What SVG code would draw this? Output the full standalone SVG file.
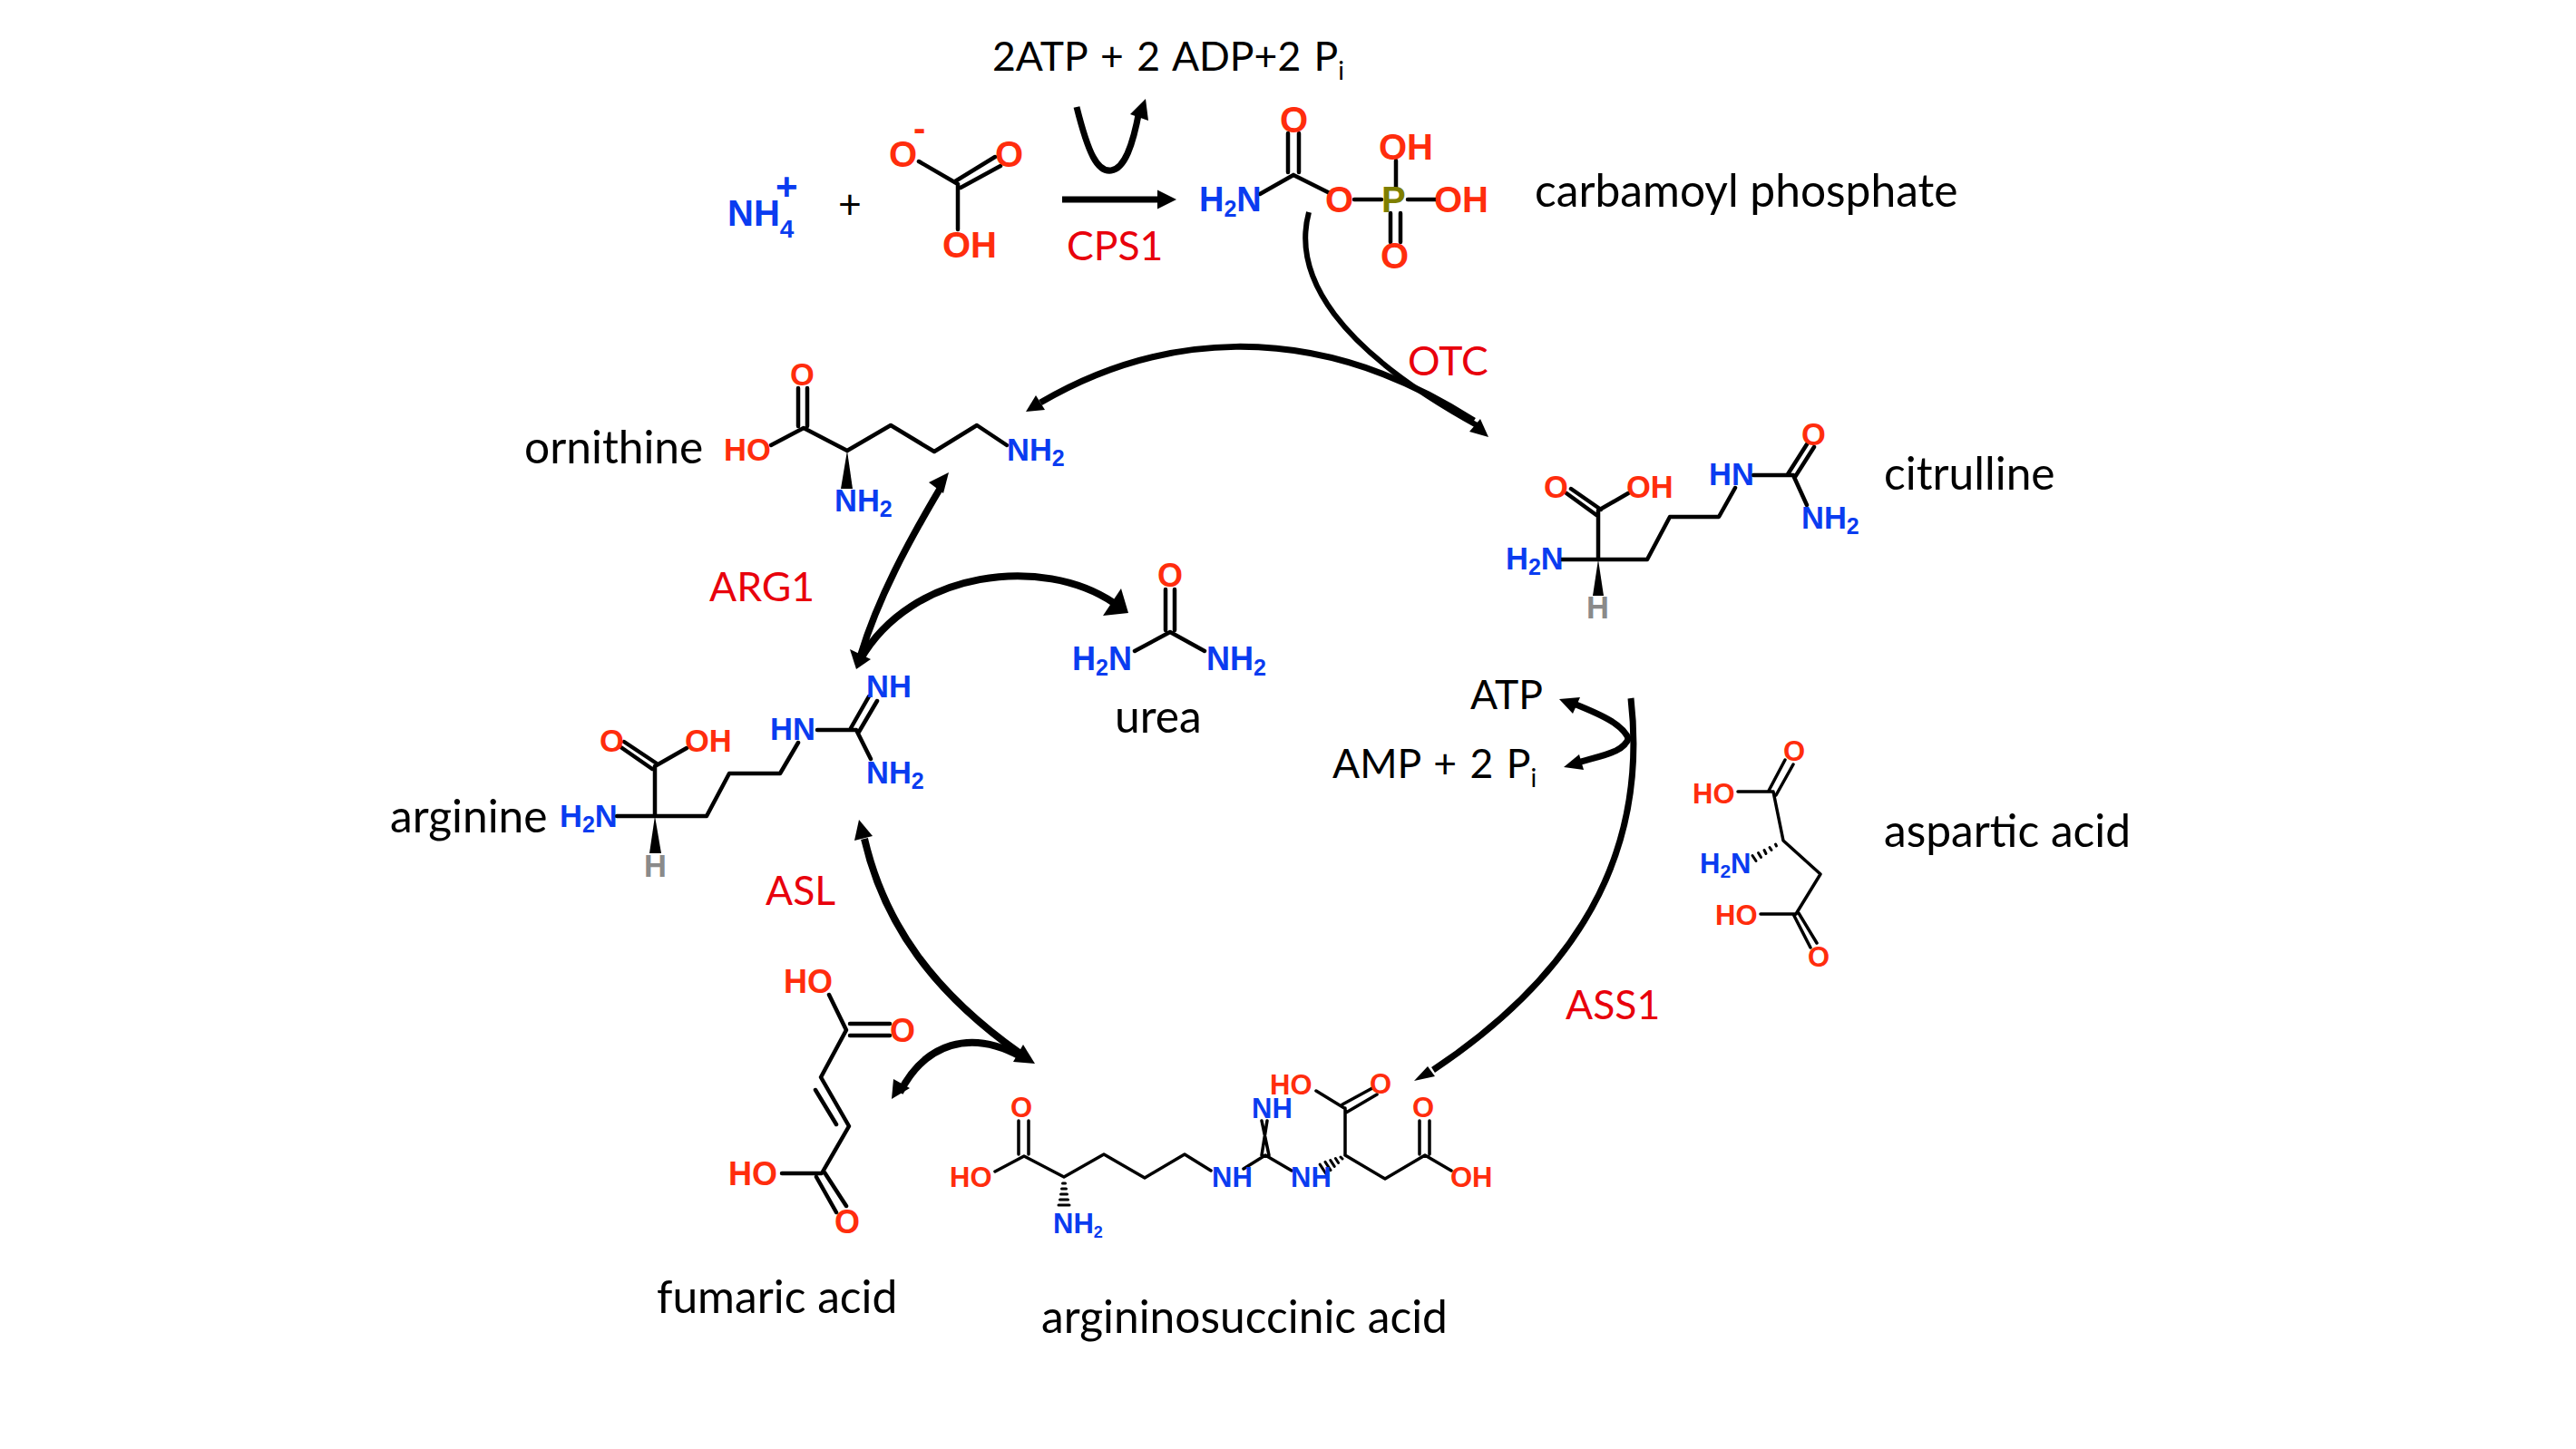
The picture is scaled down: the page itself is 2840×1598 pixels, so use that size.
<svg xmlns="http://www.w3.org/2000/svg" width="2840" height="1598" viewBox="0 0 2840 1598">
<style>
.l{font-family:Lato,"Open Sans",sans-serif;font-size:44.5px;fill:#000;word-spacing:3px}
.w{font-size:49.7px;word-spacing:0}
.e{fill:#e8000c}
.s{font-size:28px}
.a{font-family:"Liberation Sans",Arial,sans-serif;font-weight:bold;font-size:40px}
.a2{font-size:36px}.a3{font-size:31px}.a4{font-size:34.500px}.a5{font-size:31px}.a6{font-size:36px}
.r{fill:#ff2d0d}.n{fill:#0a3cf0}.p{fill:#7f7f00}.h{fill:#8a8a8a}
.sb{font-size:25px}
.b{fill:none;stroke:#000;stroke-width:4.500;stroke-linecap:round;stroke-linejoin:round}
.t{stroke-width:3.500}
.c{fill:none;stroke:#000;stroke-width:7}
.d{fill:#000}
</style>
<rect width="2840" height="1598" fill="#fff"/>

<g id="connectors">
<path class="c" d="M1187,118C1200,170 1210,190 1225,188C1240,186 1249,160 1256,122"/>
<polygon class="d" points="1263,109 1246,126 1266,133"/>
<path class="c" d="M1171,220H1280"/>
<polygon class="d" points="1297,220 1276,209.500 1276,230.500"/>
<path class="c" style="stroke-width:6" d="M1443,234C1424,305 1475,385 1630,470"/>
<path class="c" d="M1147,444C1270,372 1440,345 1625,464"/>
<polygon class="d" points="1641,482 1632,462 1620,476"/>
<polygon class="d" points="1131,454 1142,436 1152,452"/>
<path class="c" style="stroke-width:7.500" d="M1038,536C1000,600 968,660 949,722"/>
<polygon class="d" points="1046,521 1024,532 1040,544"/>
<polygon class="d" points="944,738 937,716 960,727"/>
<path class="c" style="stroke-width:8" d="M948,728C1005,628 1150,612 1228,665"/>
<polygon class="d" points="1244,676 1236,649 1216,679"/>
<path class="c" d="M1798,770C1815,920 1760,1060 1580,1180"/>
<polygon class="d" points="1559,1192 1574,1176 1582,1187"/>
<path class="c" d="M1796,816C1790,800 1770,790 1735,776"/>
<polygon class="d" points="1719,771 1742,769 1734,787"/>
<path class="c" d="M1796,813C1790,830 1770,832 1736,842"/>
<polygon class="d" points="1724,846 1741,832 1746,849"/>
<path class="c" style="stroke-width:8" d="M953,925C975,1020 1030,1095 1125,1162"/>
<polygon class="d" points="947,904 942,927 962,922"/>
<polygon class="d" points="1141,1173 1128,1152 1117,1171"/>
<path class="c" style="stroke-width:8" d="M1125,1165C1070,1135 1020,1150 992,1205"/>
<polygon class="d" points="983,1212 985,1190 1003,1200"/>
</g>

<g id="labels">
<text class="l" x="1094" y="78">2ATP + 2 ADP+2 P<tspan class="s" dy="10">i</tspan></text>
<text class="l" x="924" y="241">+</text>
<text class="l e" x="1176" y="287">CPS1</text>
<text class="l w" x="1692" y="228">carbamoyl phosphate</text>
<text class="l e" x="1552" y="414">OTC</text>
<text class="l w" x="578" y="511">ornithine</text>
<text class="l w" x="2077" y="540">citrulline</text>
<text class="l e" x="782" y="663">ARG1</text>
<text class="l w" x="1229" y="808">urea</text>
<text class="l" x="1621" y="782">ATP</text>
<text class="l" x="1469" y="858">AMP + 2 P<tspan class="s" dy="10">i</tspan></text>
<text class="l w" x="430" y="918">arginine</text>
<text class="l e" x="844" y="998">ASL</text>
<text class="l w" x="2077" y="934">aspartic acid</text>
<text class="l e" x="1726" y="1124">ASS1</text>
<text class="l w" x="724" y="1448">fumaric acid</text>
<text class="l w" x="1148" y="1470">argininosuccinic acid</text>
</g>

<g id="ammonium">
<text class="a n" x="802" y="249">NH<tspan style="font-size:28px" dy="13">4</tspan></text>
<text class="a n" x="855" y="220" style="font-size:42px">+</text>
</g>

<g id="bicarbonate">
<path class="b" d="M1056,203L1013,178M1053,200L1097,173M1059,207L1103,183M1056,203V253"/>
<text class="a r" x="980" y="184">O</text>
<text class="a r" x="1097" y="184">O</text>
<text class="a r" x="1039" y="284">OH</text>
<text class="a r" x="1007" y="155">-</text>
</g>

<g id="carbamoyl-phosphate">
<path class="b" d="M1420,147V190M1432,147V190M1426,193L1389,214M1426,193L1466,213M1493,220H1523M1539,177V207M1552,220H1584M1533,235V267M1544,235V267"/>
<text class="a n" x="1322" y="233" style="font-size:38px">H<tspan class="sb" dy="6">2</tspan><tspan dy="-6">N</tspan></text>
<text class="a r" x="1411" y="146">O</text>
<text class="a r" x="1461" y="234">O</text>
<text class="a p" x="1523" y="234">P</text>
<text class="a r" x="1520" y="176">OH</text>
<text class="a r" x="1581" y="234">OH</text>
<text class="a r" x="1522" y="296">O</text>
</g>

<g id="ornithine">
<path class="b" d="M880,428V470M890,428V470M850,491L886,472L934,497L982,469L1030,498L1077,469L1110,491"/>
<polygon class="d" points="934,497 927,539 940,539"/>
<text class="a a4 r" x="798" y="508">HO</text>
<text class="a a4 r" x="871" y="425">O</text>
<text class="a a4 n" x="1110" y="508">NH<tspan class="sb" dy="6">2</tspan></text>
<text class="a a4 n" x="920" y="564">NH<tspan class="sb" dy="6">2</tspan></text>
</g>

<g id="citrulline">
<path class="b" d="M1727,544L1760,568M1732,539L1765,562M1795,544L1762,563V617M1721,617H1816L1841,570H1895L1913,538M1933,524H1977L1992,557M1971,523L1992,490M1979,526L2000,493"/>
<polygon class="d" points="1762,617 1756,657 1768,657"/>
<text class="a a4 r" x="1702" y="549">O</text>
<text class="a a4 r" x="1793" y="549">OH</text>
<text class="a a4 n" x="1660" y="628">H<tspan class="sb" dy="6">2</tspan><tspan dy="-6">N</tspan></text>
<text class="a a4 h" x="1749" y="682">H</text>
<text class="a a4 n" x="1884" y="535">HN</text>
<text class="a a4 r" x="1986" y="491">O</text>
<text class="a a4 n" x="1986" y="583">NH<tspan class="sb" dy="6">2</tspan></text>
</g>

<g id="arginine">
<path class="b" d="M683,823L719,848M688,818L724,842M757,825L722,845V900M680,900H779L804,853H860L880,819M901,805H944L960,837M938,803L958,768M947,807L967,773"/>
<polygon class="d" points="722,900 716,941 729,941"/>
<text class="a a4 r" x="661" y="829">O</text>
<text class="a a4 r" x="755" y="829">OH</text>
<text class="a a4 n" x="617" y="912">H<tspan class="sb" dy="6">2</tspan><tspan dy="-6">N</tspan></text>
<text class="a a4 h" x="710" y="967">H</text>
<text class="a a4 n" x="849" y="816">HN</text>
<text class="a a4 n" x="955" y="769">NH</text>
<text class="a a4 n" x="955" y="864">NH<tspan class="sb" dy="6">2</tspan></text>
</g>

<g id="urea">
<path class="b" d="M1285,650V695M1295,650V695M1251,718L1290,697L1328,718"/>
<text class="a a2 r" x="1276" y="647">O</text>
<text class="a a2 n" x="1182" y="739">H<tspan class="sb" dy="6">2</tspan><tspan dy="-6">N</tspan></text>
<text class="a a2 n" x="1330" y="739">NH<tspan class="sb" dy="6">2</tspan></text>
</g>

<g id="aspartic-acid">
<path class="b t" d="M1950,872L1968,838M1958,877L1977,843M1916,873H1955L1966,927L2007,964L1980,1008H1941M1977,1008L1996,1045M1983,1007L2003,1040"/>
<path class="b t" style="stroke-width:3" d="M1957.500,931L1958.500,933M1951,934.500L1953,937.500M1945,937.500L1947,941.500M1938.500,940.500L1941.500,945.500M1932,943.500L1936,949.500"/>
<text class="a a5 r" x="1866" y="886">HO</text>
<text class="a a5 r" x="1966" y="839">O</text>
<text class="a a5 n" x="1874" y="963">H<tspan style="font-size:21px" dy="5">2</tspan><tspan dy="-5">N</tspan></text>
<text class="a a5 r" x="1891" y="1020">HO</text>
<text class="a a5 r" x="1993" y="1066">O</text>
</g>

<g id="fumaric-acid">
<path class="b" d="M914,1097L933,1136L905,1188L936,1242L906,1294H862M937,1129H981M937,1142H981M899,1202L922,1240M900,1298L922,1337M909,1293L933,1330"/>
<text class="a a6 r" x="864" y="1095">HO</text>
<text class="a a6 r" x="981" y="1149">O</text>
<text class="a a6 r" x="803" y="1307">HO</text>
<text class="a a6 r" x="920" y="1360">O</text>
</g>

<g id="argininosuccinic-acid">
<path class="b t" d="M1123,1236V1273M1134,1236V1273M1097,1292L1129,1275L1173,1298L1217,1273L1262,1299L1306,1273L1335,1291M1371,1289L1395,1274L1424,1291M1391,1274L1397,1236M1399,1274L1391,1236M1483,1274V1222M1451,1203L1482,1222M1480,1218L1513,1200M1484,1227L1518,1207M1483,1274L1527,1300L1571,1274L1600,1291M1565,1236V1273M1576,1236V1273"/>
<path class="b t" style="stroke-width:3" d="M1171.500,1305H1174.500M1170.500,1311H1175.500M1169.500,1317H1176.500M1168.500,1323H1177.500M1167,1329H1179M1478,1276L1480,1278M1472.400,1277.500L1475.600,1282.500M1466.800,1279.600L1471.200,1286.400M1461,1281.400L1467,1290.600M1455.200,1284.100L1462.800,1295.900"/>
<text class="a a3 r" x="1047" y="1309">HO</text>
<text class="a a3 r" x="1114" y="1232">O</text>
<text class="a a3 n" x="1161" y="1360">NH<tspan style="font-size:18px" dy="5">2</tspan></text>
<text class="a a3 n" x="1336" y="1309">NH</text>
<text class="a a3 n" x="1380" y="1233">NH</text>
<text class="a a3 n" x="1423" y="1309">NH</text>
<text class="a a3 r" x="1400" y="1207">HO</text>
<text class="a a3 r" x="1510" y="1206">O</text>
<text class="a a3 r" x="1557" y="1232">O</text>
<text class="a a3 r" x="1599" y="1309">OH</text>
</g>
</svg>
